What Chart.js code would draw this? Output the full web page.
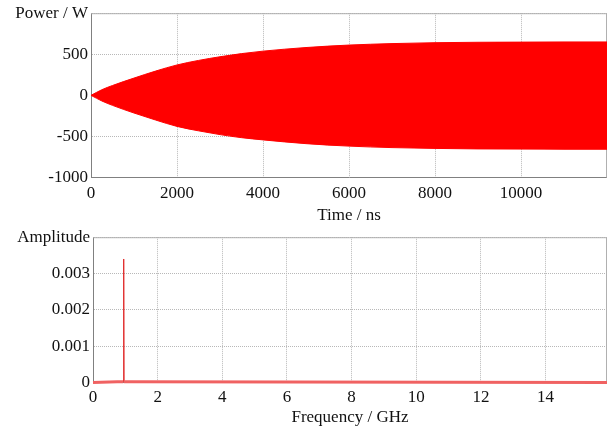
<!DOCTYPE html>
<html>
<head>
<meta charset="utf-8">
<script src="https://cdn.jsdelivr.net/npm/chart.js@4"></script>
<style>
  html, body { margin: 0; padding: 0; background: #fff; }
  #wrap { position: relative; width: 607px; height: 428px; overflow: hidden; }
  #powerChart { position: absolute; left: 0; top: 0; }
  #spectrumChart { position: absolute; left: 0; top: 224px; }
</style>
</head>
<body>
<div id="wrap">
  <canvas id="powerChart" width="607" height="226"></canvas>
  <canvas id="spectrumChart" width="607" height="204"></canvas>
</div>
<script>
// time domain envelope
const timeNs = [0, 250, 500, 1000, 1500, 2000, 2500, 3000, 3500, 4000, 5000, 6000, 7000, 8000, 9000, 10000, 11000, 12000];
const powerUpper = [0, 68, 120, 210, 295, 370, 425, 470, 508, 538, 582, 612, 630, 641, 646, 648, 650, 650];
const powerLower = [0, -68, -122, -215, -300, -378, -432, -478, -515, -542, -588, -618, -636, -646, -652, -654, -656, -656];

const powerTicks = [-1000, -750, -500, -250, 0, 250, 500, 750, 1000];
const powerLabels = ['-1000', '', '-500', '', '0', '', '500', '', 'Power / W'];
const timeTicks = [0, 2000, 4000, 6000, 8000, 10000];
const timeLabels = ['0', '2000', '4000', '6000', '8000', '10000'];

// spectrum
const freqGHz = [0, 0.75, 0.94, 0.95, 0.96, 1.15, 15.9];
const amplitude = [0, 0.00002, 0.00002, 0.0034, 0.00002, 0.00002, 0];

const ampTicks = [0, 0.0005, 0.001, 0.0015, 0.002, 0.0025, 0.003, 0.0035, 0.004];
const ampLabels = ['0', '', '0.001', '', '0.002', '', '0.003', '', 'Amplitude'];
const freqTicks = [0, 2, 4, 6, 8, 10, 12, 14];
const freqLabels = ['0', '2', '4', '6', '8', '10', '12', '14'];

const FONT = { family: 'Liberation Serif', size: 17 };
const GRID = '#b8b8b8';

// light frame on top and right of the plot
const framePlugin = {
    id: 'frame',
    beforeDatasetsDraw(chart) {
        const a = chart.chartArea;
        const ctx = chart.ctx;
        ctx.save();
        ctx.strokeStyle = '#b0b0b0';
        ctx.lineWidth = 1;
        ctx.beginPath();
        ctx.moveTo(a.left, a.top + 0.5);
        ctx.lineTo(a.right - 0.5, a.top + 0.5);
        ctx.lineTo(a.right - 0.5, a.bottom);
        ctx.stroke();
        ctx.restore();
    }
};

function yScale(ticks, labels, min, max, width) {
    return {
        type: 'linear',
        min: min,
        max: max,
        afterBuildTicks: s => { s.ticks = ticks.map(v => ({ value: v })); },
        afterFit: s => { s.width = width; },
        ticks: {
            font: FONT,
            color: '#111',
            padding: 3,
            callback: (v, i) => labels[i]
        },
        grid: { color: GRID, drawTicks: false },
        border: { display: true, color: '#808080', width: 1, dash: [1, 1] }
    };
}

function xScale(ticks, labels, min, max, title, pad, height) {
    return {
        type: 'linear',
        min: min,
        max: max,
        afterBuildTicks: s => { s.ticks = ticks.map(v => ({ value: v })); },
        afterFit: s => { s.height = height; },
        ticks: {
            font: FONT,
            color: '#111',
            padding: pad,
            autoSkip: false,
            maxRotation: 0,
            callback: (v, i) => labels[i]
        },
        grid: { color: GRID, drawTicks: false },
        border: { display: true, color: '#808080', width: 1, dash: [1, 1] },
        title: {
            display: true,
            text: title,
            font: FONT,
            color: '#111',
            padding: { top: 0, bottom: 0 }
        }
    };
}

new Chart(document.getElementById('powerChart').getContext('2d'), {
    type: 'line',
    data: {
        datasets: [{
            data: timeNs.map((t, i) => ({ x: t, y: powerUpper[i] })),
            borderColor: '#ff0000',
            backgroundColor: '#ff0000',
            borderWidth: 1,
            pointRadius: 0,
            cubicInterpolationMode: 'monotone',
            fill: '+1'
        }, {
            data: timeNs.map((t, i) => ({ x: t, y: powerLower[i] })),
            borderColor: '#ff0000',
            borderWidth: 1,
            pointRadius: 0,
            cubicInterpolationMode: 'monotone',
            fill: false
        }]
    },
    options: {
        responsive: false,
        animation: false,
        layout: { padding: { top: 13, left: 0, right: 0, bottom: 0 } },
        plugins: { legend: { display: false }, tooltip: { enabled: false } },
        scales: {
            x: xScale(timeTicks, timeLabels, 0, 12000, 'Time / ns', 6, 48.5),
            y: yScale(powerTicks, powerLabels, -1000, 1000, 91)
        }
    },
    plugins: [framePlugin]
});

new Chart(document.getElementById('spectrumChart').getContext('2d'), {
    type: 'line',
    data: {
        datasets: [{
            data: freqGHz.map((f, i) => ({ x: f, y: amplitude[i] })),
            borderColor: '#f06262',
            borderWidth: 3,
            pointRadius: 0,
            clip: false,
            segment: {
                borderColor: c => (c.p0.parsed.y > 0.0001 || c.p1.parsed.y > 0.0001) ? '#e02828' : undefined,
                borderWidth: c => (c.p0.parsed.y > 0.0001 || c.p1.parsed.y > 0.0001) ? 1 : undefined
            },
            fill: false
        }]
    },
    options: {
        responsive: false,
        animation: false,
        layout: { padding: { top: 11, left: 0, right: 0, bottom: 0 } },
        plugins: { legend: { display: false }, tooltip: { enabled: false } },
        scales: {
            x: xScale(freqTicks, freqLabels, 0, 15.9, 'Frequency / GHz', 4.5, 45.5),
            y: yScale(ampTicks, ampLabels, 0, 0.004, 93)
        }
    },
    plugins: [framePlugin]
});
</script>
</body>
</html>
